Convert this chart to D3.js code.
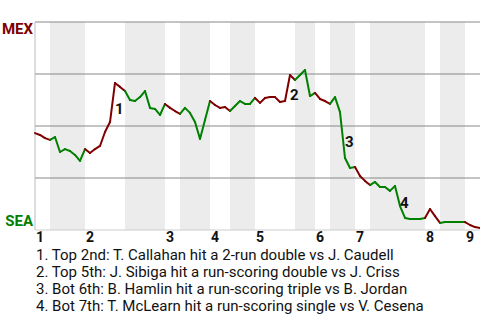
<!DOCTYPE html>
<html>
<head>
<meta charset="utf-8">
<script src="https://cdn.jsdelivr.net/npm/d3@7"></script>
<style>
  body { margin: 0; background: #fff; }
  svg { display: block; font-family: Roboto, "Liberation Sans", sans-serif; }
</style>
</head>
<body>
<script>
// win probability for MEX after every event (percent)
var winProb = [
  46.6, 45.7, 44.2, 43.3,
  44.7, 37.5, 38.9, 38.0, 36.1, 33.2, 38.9,
  37.0, 38.9, 40.4, 47.1, 51.9, 70.7, 68.8, 66.8,
  62.5, 62.0, 63.9, 66.8, 58.7, 58.2, 55.3, 60.6,
  58.7, 57.2, 55.8,
  58.7, 56.3, 51.9, 43.8, 52.9, 62.0,
  60.1, 58.7, 59.1, 57.2,
  59.6, 62.0, 60.6, 60.6, 63.5,
  61.1, 63.5, 63.9, 63.9, 61.5, 62.0, 74.5, 72.1,
  74.5, 76.9, 64.4, 65.9,
  63.0, 62.0, 60.6,
  63.9, 56.7, 34.6, 29.8, 30.3,
  26.0, 23.6, 21.6,
  23.1, 20.7, 20.7, 18.8, 21.2, 11.5, 5.8, 5.3, 5.3, 5.3, 5.8,
  10.1, 6.7, 3.4,
  3.8, 3.8, 3.8, 3.8, 3.8,
  2.4, 1.4, 1.0
];

// number of events in each half inning (top 1st, bot 1st, ...)
var halfInnings = [3, 7, 8, 8, 3, 6, 4, 5, 8, 4, 3, 5, 3, 11, 3, 5, 3];
var inningLabels = ["1", "2", "3", "4", "5", "6", "7", "8", "9"];

var teams = ["MEX", "SEA"];
var teamColors = ["#800000", "#008000"];

// key plays: event index where they happened
var noteIndex = [16, 51, 62, 73];
var noteText = [
  "1. Top 2nd: T. Callahan hit a 2-run double vs J. Caudell",
  "2. Top 5th: J. Sibiga hit a run-scoring double vs J. Criss",
  "3. Bot 6th: B. Hamlin hit a run-scoring triple vs B. Jordan",
  "4. Bot 7th: T. McLearn hit a run-scoring single vs V. Cesena"
];

var width = 480, height = 320;
var margin = {top: 22, right: 0, bottom: 90, left: 35};
var plotH = height - margin.top - margin.bottom;

var svg = d3.select("body")
  .append("svg")
  .attr("width", width)
  .attr("height", height);

var x = d3.scaleLinear()
  .domain([0, winProb.length - 1])
  .range([margin.left, width - margin.right]);

var y = d3.scaleLinear()
  .domain([0, 100])
  .range([margin.top + plotH, margin.top]);

// half inning boundaries as event indices
var bounds = [0];
halfInnings.forEach(function(n, i) {
  bounds.push(bounds[i] + n);
});

// shade bottom halves
var bands = [];
for (var h = 1; h < halfInnings.length; h += 2) {
  bands.push([bounds[h], bounds[h + 1]]);
}
svg.append("g")
  .selectAll("rect")
  .data(bands)
  .enter()
  .append("rect")
  .attr("x", function(d) { return x(d[0]); })
  .attr("y", y(100))
  .attr("width", function(d) { return x(d[1]) - x(d[0]); })
  .attr("height", y(0) - y(100))
  .attr("fill", "#ececec");

// gridlines
svg.append("g")
  .selectAll("line")
  .data([25, 50, 75, 100])
  .enter()
  .append("line")
  .attr("x1", x(0))
  .attr("x2", width - margin.right)
  .attr("y1", function(d) { return y(d); })
  .attr("y2", function(d) { return y(d); })
  .attr("stroke", "#888")
  .attr("stroke-width", 1);

// axes lines
svg.append("line")
  .attr("x1", x(0)).attr("x2", x(0))
  .attr("y1", y(100)).attr("y2", y(0))
  .attr("stroke", "#bbb");
svg.append("line")
  .attr("x1", x(0)).attr("x2", width - margin.right)
  .attr("y1", y(0)).attr("y2", y(0))
  .attr("stroke", "#ccc");

// line segments, colored by batting team
var segs = [];
for (var i = 1; i < winProb.length; i++) {
  var half = d3.bisectRight(bounds, i - 1) - 1;
  segs.push({a: i - 1, b: i, team: half % 2});
}
svg.append("g")
  .selectAll("line")
  .data(segs)
  .enter()
  .append("line")
  .attr("x1", function(d) { return x(d.a); })
  .attr("y1", function(d) { return y(winProb[d.a]); })
  .attr("x2", function(d) { return x(d.b); })
  .attr("y2", function(d) { return y(winProb[d.b]); })
  .attr("stroke", function(d) { return teamColors[d.team]; })
  .attr("stroke-width", 2)
  .attr("stroke-linecap", "round");

// team labels
svg.append("text")
  .attr("x", margin.left - 2)
  .attr("y", y(100) + 12)
  .attr("text-anchor", "end")
  .style("font-size", "15px")
  .style("font-weight", "bold")
  .attr("fill", teamColors[0])
  .text(teams[0]);
svg.append("text")
  .attr("x", margin.left - 2)
  .attr("y", y(0) - 4)
  .attr("text-anchor", "end")
  .style("font-size", "15px")
  .style("font-weight", "bold")
  .attr("fill", teamColors[1])
  .text(teams[1]);

// inning labels at the start of each top half
svg.append("g")
  .selectAll("text")
  .data(inningLabels)
  .enter()
  .append("text")
  .attr("x", function(d, i) { return x(bounds[i * 2]) + 1; })
  .attr("y", y(0) + 12)
  .style("font-size", "14px")
  .style("font-weight", "bold")
  .attr("fill", "#111")
  .text(function(d) { return d; });

// key play markers
svg.append("g")
  .selectAll("text")
  .data(noteIndex)
  .enter()
  .append("text")
  .attr("x", function(d) { return x(d); })
  .attr("y", function(d) { return (y(winProb[d - 1]) + y(winProb[d])) / 2 + 12; })
  .style("font-size", "15px")
  .style("font-weight", "bold")
  .attr("fill", "#111")
  .text(function(d, i) { return i + 1; });

// key play descriptions
svg.append("g")
  .selectAll("text")
  .data(noteText)
  .enter()
  .append("text")
  .attr("x", 36)
  .attr("y", function(d, i) { return 259.5 + i * 17.3; })
  .style("font-size", "15px")
  .attr("fill", "#111")
  .text(function(d) { return d; });
</script>
</body>
</html>
